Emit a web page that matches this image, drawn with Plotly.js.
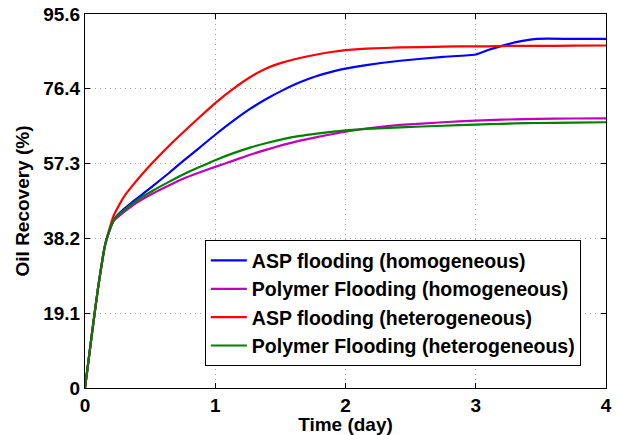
<!DOCTYPE html>
<html>
<head>
<meta charset="utf-8">
<script src="https://cdn.plot.ly/plotly-3.0.1.min.js"></script>
<style>html,body{margin:0;padding:0;background:#fff;}#chart{width:622px;height:435px;}</style>
</head>
<body>
<div id="chart"></div>
<script>
var timeDays = [0, 0.05, 0.1, 0.154, 0.18, 0.22, 0.25, 0.3, 0.36, 0.43, 0.52, 0.64, 0.75, 0.883, 1.0, 1.14, 1.267, 1.395, 1.52, 1.65, 1.78, 1.906, 2.0, 2.16, 2.42, 2.75, 3.0, 3.1, 3.2, 3.3, 3.47, 3.75, 4.0];

var aspHomogeneous = [0, 13, 25.5, 36.5, 39.5, 42.9, 44.2, 45.8, 47.4, 49.2, 51.6, 54.8, 57.9, 61.5, 64.7, 68.3, 71.3, 73.9, 76.1, 78.1, 79.7, 80.9, 81.6, 82.5, 83.6, 84.6, 85.2, 86.4, 87.4, 88.3, 89.2, 89.2, 89.2];
var polymerHomogeneous = [0, 13, 25.5, 36.5, 39.4, 42.7, 43.6, 45.0, 46.5, 48.0, 49.7, 51.7, 53.4, 55.1, 56.5, 58.1, 59.6, 60.9, 62.1, 63.2, 64.1, 64.9, 65.5, 66.3, 67.2, 67.9, 68.3, 68.45, 68.55, 68.65, 68.75, 68.85, 68.9];
var aspHeterogeneous = [0, 13, 25.5, 36.5, 39.8, 44.0, 46.0, 48.9, 51.5, 54.3, 57.6, 61.7, 65.2, 69.3, 72.8, 76.5, 79.4, 81.7, 83.2, 84.3, 85.2, 85.9, 86.3, 86.7, 87.0, 87.2, 87.3, 87.3, 87.35, 87.4, 87.4, 87.45, 87.5];
var polymerHeterogeneous = [0, 13, 25.5, 36.5, 39.5, 42.8, 44.0, 45.4, 47.0, 48.6, 50.4, 52.6, 54.5, 56.5, 58.2, 60.0, 61.4, 62.6, 63.6, 64.4, 65.0, 65.5, 65.8, 66.2, 66.6, 67.0, 67.3, 67.4, 67.5, 67.6, 67.7, 67.8, 67.9];

var seriesNames = ["ASP flooding (homogeneous)", "Polymer Flooding (homogeneous)", "ASP flooding (heterogeneous)", "Polymer Flooding (heterogeneous)"];
var seriesColors = ["#0000ff", "#bf00bf", "#ff0000", "#008000"];
var seriesValues = [aspHomogeneous, polymerHomogeneous, aspHeterogeneous, polymerHeterogeneous];

var yTickVals = [0, 19.11, 38.22, 57.33, 76.44, 95.55];
var yTickText = ["0", "19.1", "38.2", "57.3", "76.4", "95.6"];
var xTickVals = [0, 1, 2, 3, 4];

var FONT = "Liberation Sans, Arial, Helvetica, sans-serif";

var traces = seriesValues.map(function (vals, i) {
  return {
    x: timeDays,
    y: vals,
    type: "scatter",
    mode: "lines",
    name: seriesNames[i],
    line: {color: seriesColors[i], width: 2.2, shape: "spline", smoothing: 0.5}
  };
});

var axisCommon = {
  showline: true,
  linecolor: "#000",
  linewidth: 1,
  mirror: "ticks",
  ticks: "inside",
  ticklen: 5,
  tickwidth: 1,
  tickcolor: "#000",
  showgrid: true,
  gridcolor: "#a0a0a0",
  gridwidth: 1,
  griddash: "1px,4px",
  zeroline: false,
  tickfont: {family: FONT, size: 19, color: "#000", weight: "bold"}
};

var layout = {
  width: 622,
  height: 435,
  margin: {l: 85, r: 16, t: 14, b: 47},
  paper_bgcolor: "#fff",
  plot_bgcolor: "#fff",
  showlegend: true,
  xaxis: Object.assign({}, axisCommon, {
    range: [0, 4],
    tickvals: xTickVals,
    ticktext: xTickVals.map(String),
    title: {text: "Time (day)", font: {family: FONT, size: 19, color: "#000", weight: "bold"}, standoff: 1}
  }),
  yaxis: Object.assign({}, axisCommon, {
    range: [0, 95.55],
    tickvals: yTickVals,
    ticktext: yTickText,
    title: {text: "Oil Recovery (%)", font: {family: FONT, size: 19, color: "#000", weight: "bold"}, standoff: 8}
  }),
  legend: {
    x: 0.23, y: 0.395, xanchor: "left", yanchor: "top",
    bgcolor: "#fff", bordercolor: "#000", borderwidth: 1,
    font: {family: FONT, size: 19.5, color: "#000", weight: "bold"},
    itemwidth: 36,
    tracegroupgap: 0
  }
};

Plotly.newPlot("chart", traces, layout, {displayModeBar: false, staticPlot: true});
</script>
</body>
</html>
